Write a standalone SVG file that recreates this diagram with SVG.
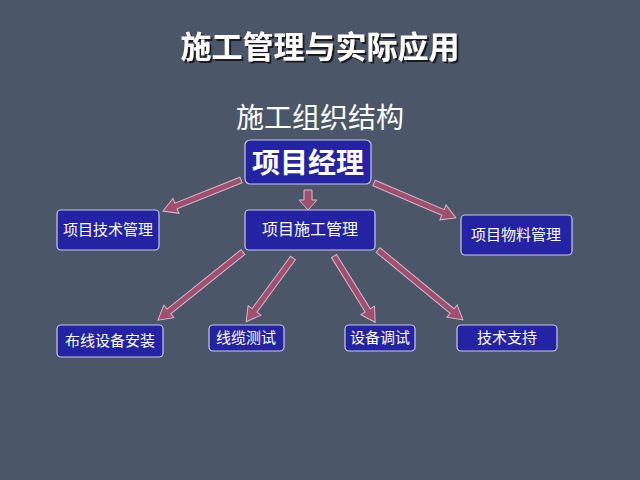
<svg xmlns="http://www.w3.org/2000/svg" width="640" height="480" viewBox="0 0 640 480">
<defs><filter id="sh"><feDropShadow dx="2" dy="2" stdDeviation="0.5" flood-color="#1a1a1a"/></filter></defs>
<style>
.b{fill:#2323a3;stroke:#c8c8e8;stroke-width:1.2}
.t{fill:#fff;font-family:"Noto Sans CJK SC",sans-serif;font-size:15px;text-anchor:middle}
.a{fill:#a0506e;stroke:#d8b8c8;stroke-width:1}
</style>
<rect width="640" height="480" fill="#4b5669"/>
<text x="320" y="58" fill="#fff" filter="url(#sh)" font-family="Noto Sans CJK SC,sans-serif" font-weight="bold" font-size="31" text-anchor="middle">施工管理与实际应用</text>
<text x="320" y="128" fill="#fff" font-family="Noto Sans CJK SC,sans-serif" font-size="28" text-anchor="middle">施工组织结构</text>
<g id="connectors">
<polygon class="a" transform="translate(241,180) rotate(158.3)" points="0,-3 70,-3 70,-8 84,0 70,8 70,3 0,3"/>
<polygon class="a" transform="translate(308,190) rotate(90)" points="0,-4 10,-4 10,-9 20,0 10,9 10,4 0,4"/>
<polygon class="a" transform="translate(374,183) rotate(23.1)" points="0,-3 75,-3 75,-8 89,0 75,8 75,3 0,3"/>
<polygon class="a" transform="translate(243,252) rotate(141.3)" points="0,-3 95,-3 95,-8 109,0 95,8 95,3 0,3"/>
<polygon class="a" transform="translate(293,258) rotate(126.3)" points="0,-3 65,-3 65,-8 79,0 65,8 65,3 0,3"/>
<polygon class="a" transform="translate(334,256) rotate(58.2)" points="0,-3 64,-3 64,-8 78,0 64,8 64,3 0,3"/>
<polygon class="a" transform="translate(378,250) rotate(39.5)" points="0,-3 96,-3 96,-8 110,0 96,8 96,3 0,3"/>
</g>
<g id="pm"><rect class="b" x="245" y="140" width="126" height="44" rx="5"/><text class="t" x="308" y="173" style="font-size:28px;font-weight:bold">项目经理</text></g>
<g id="tech"><rect class="b" x="57" y="210" width="102" height="40" rx="4"/><text class="t" x="108" y="235">项目技术管理</text></g>
<g id="cons"><rect class="b" x="245" y="210" width="130" height="40" rx="4"/><text class="t" x="310" y="235" style="font-size:16px">项目施工管理</text></g>
<g id="mat"><rect class="b" x="461" y="215" width="111" height="40" rx="4"/><text class="t" x="516" y="240">项目物料管理</text></g>
<g id="n1"><rect class="b" x="57" y="325" width="106" height="32" rx="4"/><text class="t" x="110" y="346">布线设备安装</text></g>
<g id="n2"><rect class="b" x="209" y="325" width="75" height="26" rx="4"/><text class="t" x="246" y="343">线缆测试</text></g>
<g id="n3"><rect class="b" x="345" y="325" width="70" height="26" rx="4"/><text class="t" x="380" y="343">设备调试</text></g>
<g id="n4"><rect class="b" x="457" y="325" width="100" height="26" rx="4"/><text class="t" x="507" y="343">技术支持</text></g>
</svg>
